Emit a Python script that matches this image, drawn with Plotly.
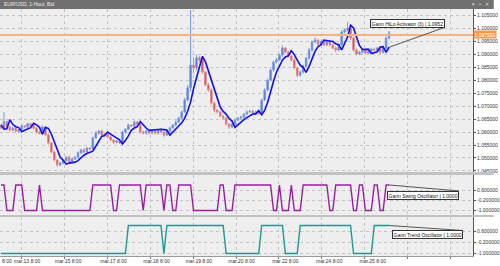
import numpy as np
import pandas as pd
import plotly.graph_objects as go

# ---------------- data ----------------
first_open = 1.0625
closes = [
    1.0616, 1.0640, 1.0620, 1.0608, 1.0615, 1.0603, 1.0610, 1.0624, 1.0620, 1.0632,
    1.0625, 1.0615, 1.0600, 1.0595, 1.0620, 1.0590, 1.0558, 1.0523, 1.0492, 1.0473,
    1.0480, 1.0490, 1.0503, 1.0484, 1.0496, 1.0503, 1.0520, 1.0531, 1.0523, 1.0538,
    1.0535, 1.0577, 1.0596, 1.0604, 1.0589, 1.0592, 1.0581, 1.0569, 1.0561, 1.0565,
    1.0558, 1.0600, 1.0611, 1.0627, 1.0624, 1.0639, 1.0631, 1.0600, 1.0596, 1.0604,
    1.0596, 1.0604, 1.0596, 1.0608, 1.0600, 1.0589, 1.0604, 1.0616, 1.0627, 1.0639,
    1.0654, 1.0678, 1.0724, 1.0771, 1.0859, 1.0848, 1.0887, 1.0879, 1.0832, 1.0782,
    1.0763, 1.0712, 1.0685, 1.0678, 1.0662, 1.0654, 1.0631, 1.0620, 1.0631, 1.0647,
    1.0654, 1.0658, 1.0670, 1.0678, 1.0681, 1.0674, 1.0678, 1.0670, 1.0724, 1.0763,
    1.0801, 1.0840, 1.0871, 1.0879, 1.0898, 1.0925, 1.0909, 1.0894, 1.0879, 1.0848,
    1.0820, 1.0832, 1.0855, 1.0886, 1.0917, 1.0948, 1.0956, 1.0940, 1.0948, 1.0937,
    1.0948, 1.0937, 1.0925, 1.0917, 1.0937, 1.0987, 1.0995, 1.1002, 1.0964, 1.0917,
    1.0902, 1.0909, 1.0917, 1.0906, 1.0913, 1.0921, 1.0917, 1.0925, 1.0909, 1.0925,
    1.0964, 1.0983,
]
up_wick_pips = [
    3, 37, 4, 3, 5, 4, 3, 5, 4, 4,
    3, 5, 4, 6, 5, 3, 4, 3, 5, 3,
    4, 5, 3, 6, 4, 3, 5, 4, 6, 3,
    4, 5, 6, 4, 5, 3, 4, 5, 3, 4,
    5, 6, 4, 5, 3, 6, 4, 3, 5, 4,
    3, 5, 4, 3, 5, 4, 3, 5, 4, 6,
    5, 6, 8, 10, 213, 30, 12, 8, 6, 5,
    8, 6, 5, 4, 6, 5, 4, 3, 5, 6,
    4, 5, 3, 6, 4, 5, 3, 4, 5, 6,
    5, 6, 4, 8, 5, 10, 4, 6, 5, 6,
    4, 6, 5, 4, 8, 6, 10, 4, 6, 5,
    8, 4, 5, 6, 4, 8, 6, 24, 10, 5,
    6, 4, 5, 6, 4, 5, 6, 4, 5, 6,
    5, 8,
]
down_wick_pips = [
    5, 4, 5, 6, 4, 5, 4, 3, 5, 4,
    5, 4, 6, 4, 5, 6, 5, 6, 5, 8,
    5, 4, 6, 4, 5, 4, 6, 5, 4, 5,
    5, 4, 3, 5, 4, 6, 5, 4, 6, 5,
    4, 5, 6, 3, 5, 4, 6, 5, 4, 6,
    5, 4, 5, 6, 5, 8, 4, 5, 3, 4,
    4, 3, 5, 6, 15, 20, 10, 8, 6, 5,
    6, 5, 8, 6, 5, 4, 6, 8, 5, 4,
    5, 4, 6, 5, 4, 5, 6, 4, 5, 4,
    5, 4, 6, 5, 4, 6, 5, 6, 7, 5,
    8, 6, 5, 4, 5, 6, 4, 5, 6, 5,
    4, 6, 5, 8, 4, 5, 6, 4, 8, 6,
    5, 4, 6, 5, 4, 6, 4, 5, 8, 5,
    4, 5,
]
swing_values = [1, -1, 1, -1, 1, -1, 1, -1, 1, -1, 1, -1, 1, -1, 1, -1, 1,
                -1, 1, -1, 1, -1, 1, -1, 1, -1, 1, -1, 1, -1, 1, -1, 1]
swing_runs = [2, 3, 3, 5, 1, 17, 7, 2, 8, 1, 6, 1, 2, 2, 5, 9, 2,
              3, 13, 2, 1, 3, 1, 3, 9, 2, 6, 2, 2, 3, 2, 2, 2]
trend_values = [-1, 1, -1, 1, -1, 1, -1, 1, -1, 1]
trend_runs = [43, 12, 1, 20, 12, 8, 5, 18, 7, 6]

tick_labels = ["mar.13 8:00", "mar.15 8:00", "mar.17 8:00", "mar.18 8:00", "mar.19 8:00",
               "mar.20 8:00", "mar.22 8:00", "mar.24 8:00", "mar.25 8:00"]
tick_bars = [8.8, 22.7, 38.0, 52.5, 66.8, 81.2, 96.0, 110.8, 125.5]
first_label = "8:00"
price_ticks = [1.045, 1.050, 1.055, 1.060, 1.065, 1.070, 1.075, 1.080,
               1.085, 1.090, 1.095, 1.100, 1.105]
osc_ticks = [0.6, -0.2, -1.0]
level_price = 1.09755
title_text = "EUR/USD, 1-Hour, Bid"
hilo_label = "Gann HiLo Activator (3) | 1.0952"
swing_label = "Gann Swing Oscillator | 1.0000"
trend_label = "Gann Trend Oscillator | 1.0000"

# ---------------- derived series ----------------
n = len(closes)
assert len(up_wick_pips) == n and len(down_wick_pips) == n
idx = np.arange(n)
closes_a = np.array(closes)
opens_a = np.array([first_open] + closes[:-1])
highs_a = np.maximum(opens_a, closes_a) + np.array(up_wick_pips) * 0.0001
lows_a = np.minimum(opens_a, closes_a) - np.array(down_wick_pips) * 0.0001

hi3 = pd.Series(highs_a).rolling(3, min_periods=1).mean().values
lo3 = pd.Series(lows_a).rolling(3, min_periods=1).mean().values
hilo = []
state = -1
for i in range(n):
    if i > 0:
        if closes_a[i] > hi3[i - 1]:
            state = 1
        elif closes_a[i] < lo3[i - 1]:
            state = -1
    hilo.append(lo3[i] if state == 1 else hi3[i])

swing = np.repeat(swing_values, swing_runs)
trend = np.repeat(trend_values, trend_runs)
assert len(swing) == n and len(trend) == n

# ---------------- layout geometry (pixels) ----------------
W, H = 500, 266
ML, MR, MT, MB = 0, 21, 9, 10
PW, PH = W - ML - MR, H - MT - MB


def pyp(y):  # pixel y (from top) -> paper y
    return (H - MB - y) / PH


def pxp(x):
    return (x - ML) / PW


FONT = "Liberation Sans, Arial, sans-serif"
GRID = "#c4c4c4"
xr = [-0.33, 159.33]
grid_bars = [7.0, 21.5, 36.0, 50.4, 64.9, 79.4, 93.8, 108.3, 122.8, 137.2, 151.7]

fig = go.Figure()
fig.add_trace(go.Candlestick(
    x=idx, open=opens_a, high=highs_a, low=lows_a, close=closes_a,
    increasing=dict(line=dict(color="#7497e6", width=1), fillcolor="#4272d8"),
    decreasing=dict(line=dict(color="#e38585", width=1), fillcolor="#d2302c"),
    whiskerwidth=0, xaxis="x", yaxis="y", showlegend=False, hoverinfo="skip"))
fig.add_trace(go.Scatter(x=idx, y=hilo, mode="lines",
                         line=dict(color="#1010f0", width=1.6),
                         xaxis="x", yaxis="y", showlegend=False))
fig.add_trace(go.Scatter(x=idx, y=swing, mode="lines",
                         line=dict(color="#9a1fa0", width=1.4),
                         xaxis="x2", yaxis="y2", showlegend=False))
fig.add_trace(go.Scatter(x=idx, y=trend, mode="lines",
                         line=dict(color="#1e9a94", width=1.4),
                         xaxis="x3", yaxis="y3", showlegend=False))


def xaxis_common(anchor, labels):
    d = dict(range=xr, anchor=anchor, showgrid=False, zeroline=False,
             tickmode="array", tickvals=tick_bars, ticktext=tick_labels,
             showticklabels=labels, ticks="",
             tickfont=dict(family=FONT, size=5, color="#333333"),
             minor=dict(tickmode="array", tickvals=grid_bars, showgrid=True,
                        gridcolor=GRID, griddash="dot", gridwidth=1,
                        ticks="outside" if labels else "", ticklen=2,
                        tickcolor="#777777"),
             rangeslider=dict(visible=False), fixedrange=True)
    return d


def yaxis_common(anchor, dom, rng, vals, texts):
    return dict(domain=dom, range=rng, anchor=anchor, side="right",
                tickmode="array", tickvals=vals, ticktext=texts,
                ticks="outside", ticklen=2, tickcolor="#555555",
                tickfont=dict(family=FONT, size=5, color="#333333"),
                showgrid=True, gridcolor=GRID, griddash="dot", gridwidth=1,
                zeroline=False, showline=True, linecolor="#555555", linewidth=1,
                fixedrange=True)


fig.update_layout(
    width=W, height=H, margin=dict(l=ML, r=MR, t=MT, b=MB, pad=0),
    paper_bgcolor="#ffffff", plot_bgcolor="#eeeeee",
    xaxis=xaxis_common("y", False),
    xaxis2=xaxis_common("y2", False),
    xaxis3=xaxis_common("y3", True),
    yaxis=yaxis_common("x", [pyp(172), 1.0], [1.04456, 1.10759],
                       price_ticks, [f"{v:.6f}" for v in price_ticks]),
    yaxis2=yaxis_common("x2", [pyp(215), pyp(175)], [-1.35, 1.78],
                        osc_ticks, [f"{v:.6f}" for v in osc_ticks]),
    yaxis3=yaxis_common("x3", [0.0, pyp(217)], [-1.18, 1.61],
                        osc_ticks, [f"{v:.6f}" for v in osc_ticks]),
    showlegend=False,
)
fig.update_xaxes(showline=False)
fig.layout.xaxis3.showline = True
fig.layout.xaxis3.linecolor = "#9a9a9a"

shapes = []
# title bar
shapes.append(dict(type="rect", xref="paper", yref="paper", x0=pxp(0), x1=pxp(W),
                   y0=pyp(9), y1=pyp(-1), fillcolor="#707070", line=dict(width=0)))
# panel separators
for y0, y1 in [(172, 175), (215, 217)]:
    shapes.append(dict(type="rect", xref="paper", yref="paper", x0=pxp(0), x1=pxp(W),
                       y0=pyp(y1), y1=pyp(y0), fillcolor="#c2c2c2", line=dict(width=0)))
# horizontal level line
shapes.append(dict(type="line", xref="paper", yref="y", x0=0, x1=1,
                   y0=level_price, y1=level_price, line=dict(color="#f5b47e", width=2)))
# callout lines
callouts = [
    ("x", "y", hilo[-1], 56, 20),
    ("x2", "y2", swing[-1], 70, -6),
    ("x3", "y3", trend[-1], 74, -5),
]
for xref, yref, yv, dx, dy in callouts:
    shapes.append(dict(type="line", xref=xref, yref=yref, xsizemode="pixel",
                       ysizemode="pixel", xanchor=idx[-1], yanchor=yv,
                       x0=0, y0=0, x1=dx, y1=dy, line=dict(color="#555555", width=1)))
fig.update_layout(shapes=shapes)

ann = []
ann.append(dict(text=title_text, xref="paper", yref="paper", x=pxp(2), y=pyp(4.5),
                xanchor="left", yanchor="middle", showarrow=False,
                font=dict(family=FONT, size=5, color="#ececec")))
ann.append(dict(text="▾   ▪   ✕", xref="paper", yref="paper", x=pxp(497), y=pyp(4.5),
                xanchor="right", yanchor="middle", showarrow=False,
                font=dict(family=FONT, size=5, color="#dddddd")))
ann.append(dict(text=f"{level_price:.6f}", xref="paper", yref="y", x=1.0, y=level_price,
                xanchor="left", yanchor="middle", showarrow=False, bgcolor="#f39a4e",
                borderpad=0.5, font=dict(family=FONT, size=5, color="#ffffff")))
box_specs = [
    (hilo_label, "x", "y", hilo[-1], 56, 19, "bottom"),
    (swing_label, "x2", "y2", swing[-1], 70, -6, "top"),
    (trend_label, "x3", "y3", trend[-1], 74, -4, "top"),
]
for txt, xref, yref, yv, dx, dy, ya in box_specs:
    ann.append(dict(text=txt, xref=xref, yref=yref, x=idx[-1], y=yv,
                    xanchor="right", yanchor=ya, xshift=dx, yshift=dy, showarrow=False,
                    bgcolor="#ffffff", bordercolor="#333333", borderwidth=1, borderpad=0.6,
                    font=dict(family=FONT, size=5, color="#111111")))
# first (partial) time label at the left edge
ann.append(dict(text=first_label, xref="paper", yref="paper", x=pxp(0.5), y=0,
                yshift=0, xanchor="left", yanchor="top", showarrow=False,
                font=dict(family=FONT, size=5, color="#333333")))
fig.update_layout(annotations=ann)

fig.write_html("out.html")
